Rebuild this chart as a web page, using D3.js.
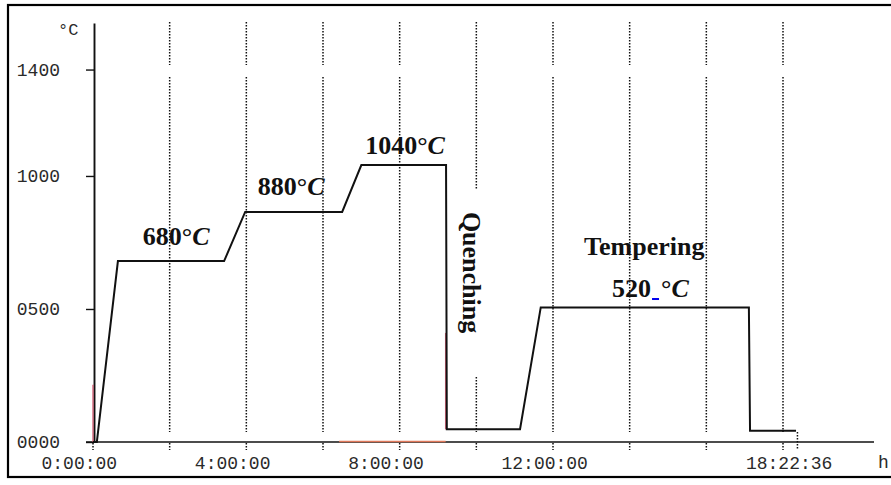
<!DOCTYPE html>
<html>
<head>
<meta charset="utf-8">
<script src="https://cdn.jsdelivr.net/npm/d3@7"></script>
<style>
  html, body { margin: 0; padding: 0; background: #fff; }
  svg { display: block; }
  .tick text { font-family: "Liberation Mono", "DejaVu Sans Mono", monospace; }
  .note { font-family: "Liberation Serif", "Times New Roman", serif; font-weight: bold; fill: #111; }
</style>
</head>
<body>
<svg id="chart" width="891" height="485"></svg>
<script>
// furnace record (hours, deg C)
var hours = [0.1, 0.65, 3.42, 3.97, 6.5, 7.0, 9.21, 9.23, 11.14, 11.68, 17.11, 17.14, 18.34];
var temps = [0, 680, 680, 865, 865, 1041, 1041, 48, 48, 506, 506, 42, 42];

// faint red / orange traces of the second channel
var redHours = [[0, 0], [9.2, 9.2]];
var redTemps = [[0, 215], [48, 410]];
var orangeHours = [6.42, 9.2];
var orangeTemps = [2, 2];

var yTicks = [0, 500, 1000, 1400];
var xTicks = [0, 4, 8, 12, 18 + 22 / 60 + 36 / 3600];
var xTickLabels = ["0:00:00", "4:00:00", "8:00:00", "12:00:00", "18:22:36"];
var gridHours = [2, 4, 6, 8, 10, 12, 14, 16, 18];

// annotations: text, hour, temp
var notes = [
    { t: "680", h: 1.30, c: 740 },
    { t: "880", h: 4.30, c: 928 },
    { t: "1040", h: 7.10, c: 1083 }
];

var svg = d3.select("#chart");

var x = d3.scaleLinear().domain([0, 18]).range([93, 783]);
var y = d3.scaleLinear().domain([0, 1575]).range([442, 23]);

// frame
svg.append("rect")
    .attr("x", 8).attr("y", 5)
    .attr("width", 895).attr("height", 472)
    .attr("fill", "none")
    .attr("stroke", "#000")
    .attr("stroke-width", 2.2);

// dotted grid, with the little gaps of the print
var grid = svg.append("g");
gridHours.forEach(function (h) {
    var segs = h == 10 ? [[22, 190], [377, 432], [443, 450]] : [[22, 65], [77, 432], [443, 450]];
    segs.forEach(function (s) {
        grid.append("line")
            .attr("x1", x(h)).attr("x2", x(h))
            .attr("y1", s[0]).attr("y2", s[1])
            .attr("stroke", "#111")
            .attr("stroke-width", 1.5)
            .attr("stroke-dasharray", "1.6,1.4");
    });
});
[[0, 443, 450], [xTicks[4], 432, 450]].forEach(function (s) {
    grid.append("line")
        .attr("x1", x(s[0])).attr("x2", x(s[0]))
        .attr("y1", s[1]).attr("y2", s[2])
        .attr("stroke", "#111")
        .attr("stroke-width", 1.5)
        .attr("stroke-dasharray", "1.6,1.4");
});

// y axis
var yAxis = svg.append("g")
    .attr("transform", "translate(94,0)")
    .call(d3.axisLeft(y)
        .tickValues(yTicks)
        .tickFormat(d3.format("04d"))
        .tickSize(8)
        .tickSizeOuter(0)
        .tickPadding(26));
yAxis.select(".domain").attr("stroke", "#111").attr("stroke-width", 1.9);
yAxis.selectAll(".tick line").attr("stroke", "#111").attr("stroke-width", 1.4);
yAxis.selectAll(".tick text")
    .attr("font-size", 18)
    .attr("fill", "#2a2a2a");

svg.append("text")
    .attr("x", 58).attr("y", 35)
    .attr("font-family", "Liberation Mono, monospace")
    .attr("font-size", 17)
    .attr("fill", "#2a2a2a")
    .text("°C");

// x axis
var xAxis = svg.append("g")
    .attr("transform", "translate(0,442)")
    .call(d3.axisBottom(x)
        .tickValues(xTicks)
        .tickFormat(function (d, i) { return xTickLabels[i]; })
        .tickSize(0)
        .tickPadding(14));
xAxis.select(".domain").remove();
xAxis.selectAll(".tick text")
    .attr("font-size", 18)
    .attr("fill", "#2a2a2a")
    .attr("text-anchor", "start")
    .attr("dx", -52);

svg.append("line")
    .attr("x1", 86).attr("x2", 874)
    .attr("y1", y(0)).attr("y2", y(0))
    .attr("stroke", "#111")
    .attr("stroke-width", 1.7);

svg.append("text")
    .attr("x", 878).attr("y", 468)
    .attr("font-family", "Liberation Mono, monospace")
    .attr("font-size", 18)
    .attr("fill", "#2a2a2a")
    .text("h");

// second channel traces
var line = d3.line()
    .x(function (d) { return x(d[0]); })
    .y(function (d) { return y(d[1]); });

svg.append("path")
    .attr("d", line(d3.zip(orangeHours, orangeTemps)))
    .attr("fill", "none")
    .attr("stroke", "#e0785a")
    .attr("stroke-width", 1.6);

redHours.forEach(function (hs, i) {
    svg.append("path")
        .attr("d", line(d3.zip(hs, redTemps[i])))
        .attr("fill", "none")
        .attr("stroke", "#c8405a")
        .attr("stroke-width", 1.4)
        .attr("opacity", 0.8);
});

// main trace
svg.append("path")
    .attr("d", line([[0, 0]].concat(d3.zip(hours, temps))))
    .attr("fill", "none")
    .attr("stroke", "#111")
    .attr("stroke-width", 2)
    .attr("stroke-linejoin", "miter");

// labels
notes.forEach(function (n) {
    var t = svg.append("text")
        .attr("class", "note")
        .attr("x", x(n.h)).attr("y", y(n.c))
        .attr("font-size", 26);
    t.append("tspan").text(n.t + "°");
    t.append("tspan").attr("font-style", "italic").text("C");
});

svg.append("text")
    .attr("class", "note")
    .attr("font-size", 26)
    .attr("transform", "translate(" + x(9.65) + "," + y(865) + ") rotate(90)")
    .text("Quenching");

svg.append("text")
    .attr("class", "note")
    .attr("font-size", 26)
    .attr("x", x(12.81)).attr("y", y(703))
    .text("Tempering");

var t520 = svg.append("text")
    .attr("class", "note")
    .attr("font-size", 26)
    .attr("x", x(13.54)).attr("y", y(545))
    .text("520");
var w520 = t520.node().getComputedTextLength();
svg.append("rect")
    .attr("x", x(13.54) + w520 + 1).attr("y", y(545) + 1)
    .attr("width", 7).attr("height", 2)
    .attr("fill", "#0000ee");
var tC = svg.append("text")
    .attr("class", "note")
    .attr("font-size", 26)
    .attr("x", x(13.54) + w520 + 10).attr("y", y(545));
tC.append("tspan").text("°");
tC.append("tspan").attr("font-style", "italic").text("C");
</script>
</body>
</html>
